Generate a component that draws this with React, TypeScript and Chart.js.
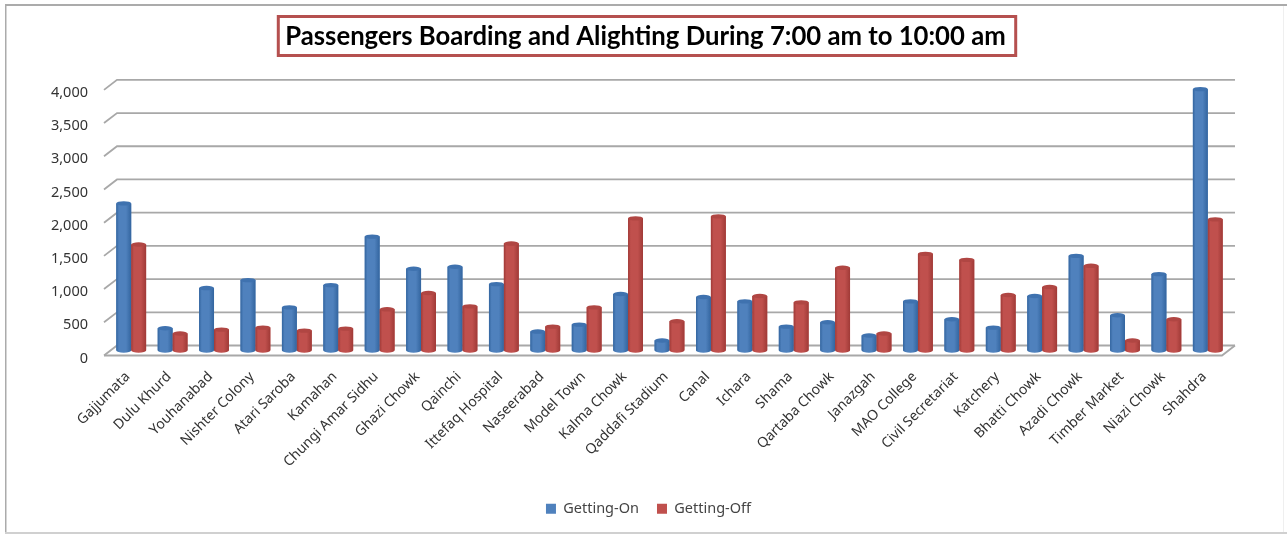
import React, { useEffect, useRef } from "react";
import { Chart, registerables } from "chart.js";

Chart.register(...registerables);

const stations = [
  "Gajjumata", "Dulu Khurd", "Youhanabad", "Nishter Colony", "Atari Saroba", "Kamahan", "Chungi Amar Sidhu",
  "Ghazi Chowk", "Qainchi", "Ittefaq Hospital", "Naseerabad", "Model Town", "Kalma Chowk", "Qaddafi Stadium",
  "Canal", "Ichara", "Shama", "Qartaba Chowk", "Janazgah", "MAO College", "Civil Secretariat", "Katchery",
  "Bhatti Chowk", "Azadi Chowk", "Timber Market", "Niazi Chowk", "Shahdra",
];
const gettingOn = [
  2215, 335, 940, 1060, 650, 985, 1715, 1230, 1260, 1000, 285, 390, 850, 150,
  805, 740, 360, 425, 225, 740, 470, 345, 820, 1425, 530, 1150, 3935,
];
const gettingOff = [
  1595, 255, 315, 345, 300, 330, 620, 865, 665, 1610, 360, 650, 1990, 440,
  2020, 820, 725, 1245, 255, 1455, 1365, 835, 955, 1275, 150, 470, 1975,
];
const titleText = "Passengers Boarding and Alighting During 7:00 am to 10:00 am";

const BLUE = "#4F81BD";
const RED = "#C0504D";
const GRID = "#A8A8A8";
const DX = 13;
const DY = -10;
const LIFT = 3;

const titleFont = "bold 25.7px Lato";

const cylinderPlugin = {
  id: "cylinder3d",
  afterLayout(chart: any) {
    chart.legend.left += 3;
    chart.legend.right += 3;
  },
  beforeDraw(chart: any) {
    const { ctx, width, height, scales } = chart;
    ctx.save();
    ctx.fillStyle = "#fff";
    ctx.fillRect(0, 0, width, height);
    ctx.fillStyle = "#ABABAB";
    ctx.fillRect(5, 4, width - 5, 2);
    ctx.fillRect(5, 4, 1.5, height - 4);
    ctx.fillStyle = "#D0D0D0";
    ctx.fillRect(5, height - 2, width - 5, 2);
    ctx.fillStyle = "#EFEFEF";
    ctx.fillRect(width - 4, 6, 1, height - 8);

    // title frame
    ctx.font = titleFont;
    const tw = ctx.measureText(titleText).width;
    const tb = chart.titleBlock;
    const cx = (tb.left + tb.right) / 2;
    ctx.lineWidth = 3;
    ctx.strokeStyle = "#B5504F";
    ctx.strokeRect(cx - tw / 2 - 7, 16.5, tw + 17, 39);

    // back wall grid lines with side stubs
    const y = scales.y;
    const { left, right } = chart.chartArea;
    ctx.lineWidth = 1.8;
    ctx.strokeStyle = GRID;
    y.ticks.forEach((t: any) => {
      const py = y.getPixelForValue(t.value) - LIFT;
      ctx.beginPath();
      ctx.moveTo(left, py);
      ctx.lineTo(left + DX, py + DY);
      ctx.lineTo(right + DX, py + DY);
      ctx.stroke();
    });
    // floor
    const p0 = y.getPixelForValue(0) - LIFT;
    ctx.beginPath();
    ctx.moveTo(left, p0);
    ctx.lineTo(right, p0);
    ctx.lineTo(right + DX, p0 + DY);
    ctx.stroke();
    ctx.restore();
  },
  beforeDatasetsDraw(chart: any) {
    chart.ctx.save();
    chart.ctx.translate(DX / 2, DY / 2 - LIFT);
  },
  afterDatasetsDraw(chart: any) {
    const { ctx } = chart;
    chart.data.datasets.forEach((ds: any, di: number) => {
      const dark = di === 0 ? "#33659F" : "#A03A37";
      const cap = di === 0 ? "#3F72AF" : "#B04643";
      const mid = ds.backgroundColor;
      chart.getDatasetMeta(di).data.forEach((el: any) => {
        const { x, y, base, width } = el.getProps(["x", "y", "base", "width"], true);
        const l = x - width / 2;
        const r = x + width / 2;
        const rx = width / 2;
        const ry = 2.2;
        const g = ctx.createLinearGradient(l, 0, r, 0);
        g.addColorStop(0, dark);
        g.addColorStop(0.18, mid);
        g.addColorStop(0.65, mid);
        g.addColorStop(1, dark);
        ctx.fillStyle = g;
        ctx.beginPath();
        ctx.moveTo(l, y);
        ctx.lineTo(l, base);
        ctx.ellipse(x, base, rx, ry, 0, Math.PI, 0, true);
        ctx.lineTo(r, y);
        ctx.closePath();
        ctx.fill();
        ctx.fillStyle = cap;
        ctx.beginPath();
        ctx.ellipse(x, y, rx, ry, 0, 0, Math.PI * 2);
        ctx.fill();
      });
    });
    ctx.restore();
  },
};

export default function App() {
  const ref = useRef<HTMLCanvasElement | null>(null);
  useEffect(() => {
    const chart = new Chart(ref.current as HTMLCanvasElement, {
      type: "bar",
      data: {
        labels: stations,
        datasets: [
          { label: "Getting-On", data: gettingOn, backgroundColor: BLUE },
          { label: "Getting-Off", data: gettingOff, backgroundColor: RED },
        ],
      },
      plugins: [cylinderPlugin],
      options: {
        responsive: false,
        animation: false,
        layout: { padding: { left: 9, right: 5, top: 0, bottom: 8 } },
        datasets: { bar: { barPercentage: 1, categoryPercentage: 0.72 } },
        plugins: {
          tooltip: { enabled: false },
          title: {
            display: true,
            text: titleText,
            color: "#000",
            font: { family: "Lato", size: 25.7, weight: "bold" },
            padding: { top: 21, bottom: 41 },
          },
          legend: {
            position: "bottom",
            labels: {
              boxWidth: 10,
              boxHeight: 10,
              padding: 18,
              color: "#444",
              font: { family: "Noto Sans", size: 14.5 },
            },
          },
        },
        scales: {
          x: {
            grid: { display: false },
            border: { display: false },
            afterFit: (s: any) => { s.height = 125; },
            ticks: {
              autoSkip: false,
              minRotation: 45,
              maxRotation: 45,
              padding: 2,
              labelOffset: 3,
              color: "#333",
              font: { family: "Noto Sans", size: 14 },
            },
          },
          y: {
            min: 0,
            max: 4000,
            grid: { display: false },
            border: { display: false },
            afterFit: (s: any) => { s.width = 95; },
            ticks: {
              stepSize: 500,
              padding: 8,
              color: "#333",
              font: { family: "Noto Sans", size: 14.5 },
              callback: (v: any) => Number(v).toLocaleString("en-US"),
            },
          },
          spacer: {
            position: "right",
            display: true,
            grid: { display: false },
            border: { display: false },
            ticks: { display: false },
            afterFit: (s: any) => { s.width = 60; },
          },
        },
      },
    } as any);
    return () => chart.destroy();
  }, []);
  return (
    <div style={{ position: "absolute", left: 0, top: 0, width: 1287, height: 534 }}>
      <canvas ref={ref} width={1287} height={534} style={{ display: "block" }} />
    </div>
  );
}
